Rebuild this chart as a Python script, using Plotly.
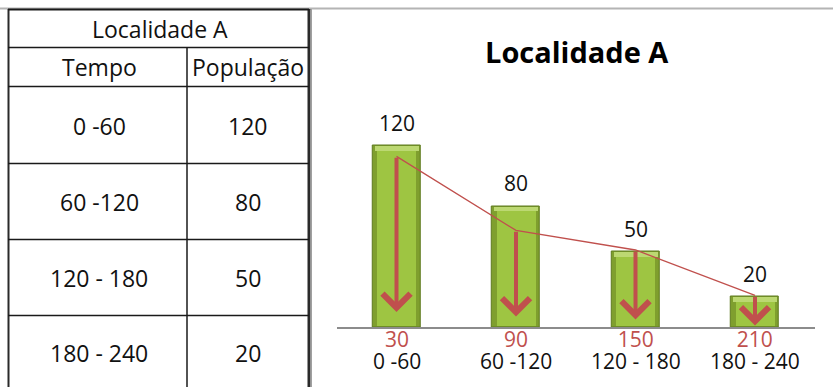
import plotly.graph_objects as go

# --- data -------------------------------------------------------------
title = "Localidade A"
col_headers = ["Tempo", "População"]
intervals = ["0 -60", "60 -120", "120 - 180", "180 - 240"]
midpoints = [30, 90, 150, 210]
population = [120, 80, 50, 20]
# vertical arrows inside each bar: start (tail) and end (tip) levels
arrow_start = [113, 64, 51, 21]
arrow_end = [10, 7, 5, 1]

RED = "#c0504d"
FONT = "Open Sans"
W, H = 833, 387

fig = go.Figure()

# bars drawn in layers to give a bevelled look
fig.add_trace(go.Bar(x=midpoints, y=population, width=24,
                     marker=dict(color="#7f9f2e", line=dict(color="#5f7b1f", width=1)),
                     hoverinfo="skip"))
bevel = 3
fig.add_trace(go.Bar(x=midpoints, y=[p - bevel for p in population], width=19.5,
                     base=[1] * len(population),
                     marker=dict(color="#9ec542", line=dict(width=0)), hoverinfo="skip"))
fig.add_trace(go.Bar(x=midpoints, y=[bevel] * len(population),
                     base=[p - bevel for p in population], width=22,
                     marker=dict(color="#bcd872", line=dict(width=0)), hoverinfo="skip"))

# thin line joining the arrow tails
fig.add_trace(go.Scatter(x=midpoints, y=arrow_start, mode="lines",
                         line=dict(color=RED, width=1.3), hoverinfo="skip"))

annotations = []
for m, s, e in zip(midpoints, arrow_start, arrow_end):
    annotations.append(dict(x=m, y=e, ax=m, ay=s, xref="x", yref="y",
                            axref="x", ayref="y", text="", showarrow=True,
                            arrowhead=4, arrowsize=1.35, arrowwidth=4,
                            arrowcolor=RED, standoff=0, startstandoff=0))
for m, p in zip(midpoints, population):
    annotations.append(dict(x=m, y=p, xref="x", yref="y", text=str(p),
                            showarrow=False, yshift=23, yanchor="middle",
                            font=dict(family=FONT, size=21, color="#111")))
# two-row category labels under the baseline (tight line spacing)
for m, iv in zip(midpoints, intervals):
    label = (f"<span style='font-size:21px;fill:{RED}'>{m}</span><br>"
             f"<span style='font-size:21px'>{iv}</span>")
    annotations.append(dict(x=m, y=0, xref="x", yref="y", text=label,
                            showarrow=False, yshift=4, yanchor="top",
                            font=dict(family=FONT, size=17, color="#111")))

# chart title
annotations.append(dict(x=577 / W, y=1 - 51 / H, xref="paper", yref="paper",
                        text="<b>" + title + "</b>", showarrow=False,
                        xanchor="center", yanchor="middle",
                        font=dict(family=FONT, size=29, color="#000")))

# --- table on the left ------------------------------------------------
tx0, tx1, tcol = 8, 309, 187
row_lines = [9, 47, 86, 163, 239, 315, 392]


def px(x):
    return x / W


def py(y):
    return 1 - y / H


shapes = []
# light rule along the top of the sheet
shapes.append(dict(type="line", xref="paper", yref="paper", x0=0, x1=1,
                   y0=py(8.5), y1=py(8.5), line=dict(color="#b4b4b4", width=2)))
# outer vertical borders
for x, w in [(tx0 + 0.5, 2), (tx1, 3)]:
    shapes.append(dict(type="line", xref="paper", yref="paper", x0=px(x), x1=px(x),
                       y0=py(row_lines[0]), y1=0, line=dict(color="#2a2a2a", width=w)))
shapes.append(dict(type="line", xref="paper", yref="paper", x0=px(311.5), x1=px(311.5),
                   y0=py(row_lines[0]), y1=0, line=dict(color="#a0a0a0", width=1)))
# column divider (below the merged title row)
shapes.append(dict(type="line", xref="paper", yref="paper", x0=px(tcol), x1=px(tcol),
                   y0=py(row_lines[1]), y1=0, line=dict(color="#1a1a1a", width=1.5)))
# horizontal row lines
for i, y in enumerate(row_lines[:-1]):
    shapes.append(dict(type="line", xref="paper", yref="paper", x0=px(tx0), x1=px(tx1),
                       y0=py(y + 0.5), y1=py(y + 0.5),
                       line=dict(color="#1a1a1a", width=2 if i == 0 else 1.5)))

c1 = 99
c2 = 248
tfont = dict(family=FONT, size=23, color="#111")


def cell(x, y, text):
    annotations.append(dict(x=px(x), y=py(y), xref="paper", yref="paper", text=text,
                            showarrow=False, xanchor="center", yanchor="middle",
                            font=tfont))


cell(160, 29, title)
cell(c1, 67, col_headers[0])
cell(c2, 67, col_headers[1])
for i, (iv, p) in enumerate(zip(intervals, population)):
    yc = (row_lines[i + 2] + row_lines[i + 3]) / 2 + 1
    if i == 3:
        yc = 353
    cell(c1, yc, iv)
    cell(c2, yc, str(p))

fig.update_layout(
    width=W, height=H, margin=dict(l=0, r=0, t=0, b=0),
    paper_bgcolor="white", plot_bgcolor="white",
    barmode="overlay", bargap=0, showlegend=False,
    xaxis=dict(domain=[336.75 / W, 814.75 / W], range=[0, 240],
               showticklabels=False, showgrid=False, zeroline=False,
               showline=True, linecolor="#8c8c8c", linewidth=1.5, ticks="",
               fixedrange=True),
    yaxis=dict(domain=[60 / H, (H - 100.5) / H], range=[0, 150],
               showgrid=False, zeroline=False, showline=False,
               showticklabels=False, fixedrange=True),
    shapes=shapes, annotations=annotations,
)

fig.write_html("out.html")
